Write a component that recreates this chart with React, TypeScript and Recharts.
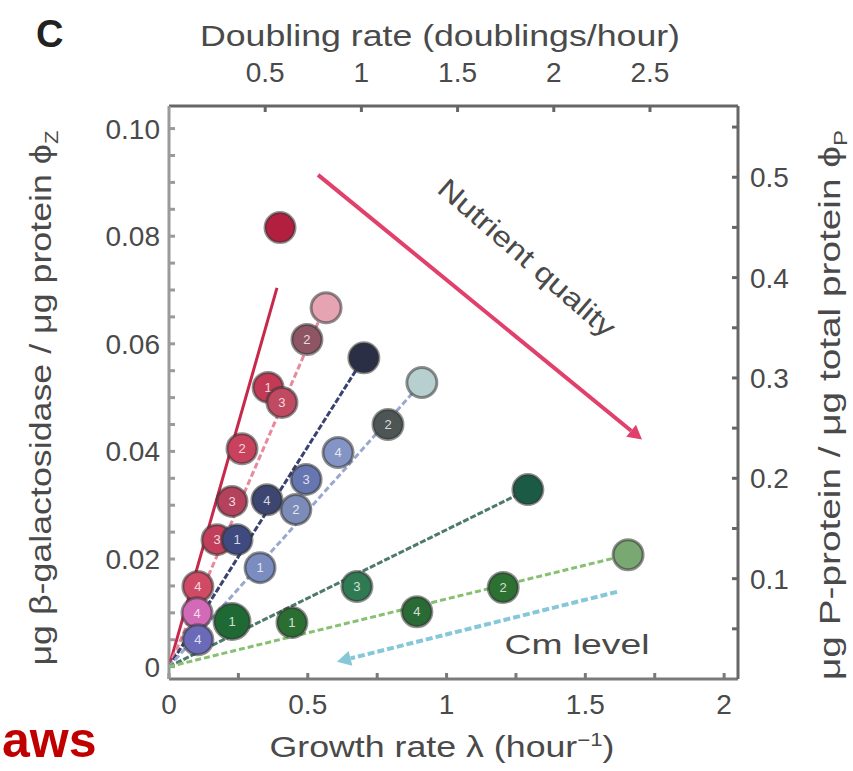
import React from 'react';
import { ComposedChart, Scatter, XAxis, YAxis, ReferenceLine, ReferenceDot } from 'recharts';

const FONT = '"Liberation Sans", Arial, Helvetica, sans-serif';
const TEXT = '#4a4a4a';
const AXIS = '#7a7a7a';

// ---- axis ticks ----
const growthTicks = [0, 0.25, 0.5, 0.75, 1, 1.25, 1.5, 1.75, 2];
const growthLabels = [0, 0.5, 1, 1.5, 2];
const doublingTicks = [0.5, 1, 1.5, 2, 2.5];
const lacZTicks = [0, 0.005, 0.01, 0.015, 0.02, 0.025, 0.03, 0.035, 0.04, 0.045, 0.05, 0.055, 0.06, 0.065, 0.07, 0.075, 0.08, 0.085, 0.09, 0.095, 0.1];
const lacZLabels = [0, 0.02, 0.04, 0.06, 0.08, 0.1];
const pTicks = [0.05, 0.1, 0.15, 0.2, 0.25, 0.3, 0.35, 0.4, 0.45, 0.5, 0.55];
const pLabels = [0.1, 0.2, 0.3, 0.4, 0.5];

// ---- series (growth rate λ, LacZ fraction, Cm label) ----
const crimsonLambda = [0.4, 0.357, 0.263, 0.173, 0.104];
const crimsonLacZ = [0.0816, 0.0519, 0.0405, 0.0236, 0.0149];
const crimsonCm = ['', '1', '2', '3', '4'];
const crimsonFitLambda = [0, 0.389];
const crimsonFitLacZ = [0, 0.0704];

const pinkLambda = [0.566, 0.497, 0.407, 0.227, 0.101];
const pinkLacZ = [0.0667, 0.0608, 0.0491, 0.0307, 0.01];
const pinkCm = ['', '2', '3', '3', '4'];
const pinkFitLambda = [0, 0.55];
const pinkFitLacZ = [0, 0.0655];

const navyLambda = [0.702, 0.494, 0.353, 0.245, 0.104];
const navyLacZ = [0.0574, 0.0348, 0.031, 0.0236, 0.005];
const navyCm = ['', '3', '4', '1', '4'];
const navyFitLambda = [0, 0.702];
const navyFitLacZ = [0, 0.0574];

const greyLambda = [0.911, 0.789, 0.609, 0.457, 0.328];
const greyLacZ = [0.0528, 0.045, 0.0398, 0.0292, 0.0184];
const greyCm = ['', '2', '4', '2', '1'];
const greyFitLambda = [0, 0.911];
const greyFitLacZ = [0, 0.0528];

const tealLambda = [1.293, 0.677, 0.227];
const tealLacZ = [0.0329, 0.0149, 0.0084];
const tealCm = ['', '3', '1'];
const tealFitLambda = [0, 1.293];
const tealFitLacZ = [0, 0.0329];

const greenLambda = [1.654, 1.204, 0.893, 0.443];
const greenLacZ = [0.0208, 0.0147, 0.0102, 0.0082];
const greenCm = ['', '2', '4', '1'];
const greenFitLambda = [0, 1.654];
const greenFitLacZ = [0, 0.0208];

// annotation arrows
const nutrientArrowLambda = [0.537, 1.704];
const nutrientArrowLacZ = [0.0914, 0.0422];
const cmArrowLambda = [1.614, 0.605];
const cmArrowLacZ = [0.0139, 0.0009];
const nutrientLabelAt = [1.29, 0.076];
const cmLabelAt = [1.47, 0.0041];

// ---- styles ----
const crimsonFills = ['#b3203f', '#c23a56', '#c8425e', '#c23f5c', '#d04a66'];
const pinkFills = ['#e6a4b2', '#8e5565', '#c04a62', '#b5425c', '#d26ab8'];
const navyFills = ['#2a2f45', '#6676b0', '#3d4670', '#3f4a80', '#6a6ab8'];
const greyFills = ['#b7cfcf', '#4d5555', '#8494c4', '#7d8bb8', '#7b8cc0'];
const tealFills = ['#1b5a45', '#2f7a52', '#1f6a34'];
const greenFills = ['#7aa872', '#2c7032', '#2a6a34', '#2a6e32'];
const tealRadii = [15, 15, 18];

const build = (xs: number[], ys: number[], cms?: string[]) =>
  xs.map((x, i) => ({ x, y: ys[i], cm: cms ? cms[i] : '', i }));

const makeDot = (fills: string[], radii?: number[]) => (p: any) => {
  if (p.cx == null || p.cy == null) return <g />;
  const i = p.payload.i;
  const r = radii ? radii[i] : 15;
  return (
    <g>
      <circle cx={p.cx} cy={p.cy} r={r} fill={fills[i]} stroke="#333" strokeOpacity={0.55} strokeWidth={3} />
      {p.payload.cm ? (
        <text x={p.cx} y={p.cy} dy="0.36em" textAnchor="middle" fontSize={13} fontFamily={FONT} fill="#fff" fillOpacity={0.8}>
          {p.payload.cm}
        </text>
      ) : null}
    </g>
  );
};

const noDot = () => <g />;

const arrowShape = (color: string, width: number, dash: string | undefined, head: number) => (p: any) => {
  const { x1, y1, x2, y2 } = p;
  if (x1 == null) return <g />;
  const a = Math.atan2(y2 - y1, x2 - x1);
  const c = Math.cos(a);
  const s = Math.sin(a);
  const bx = x2 - head * c;
  const by = y2 - head * s;
  const w = head * 0.55;
  return (
    <g>
      <line x1={x1} y1={y1} x2={bx} y2={by} stroke={color} strokeWidth={width} strokeDasharray={dash} />
      <polygon points={`${x2},${y2} ${bx - w * s},${by + w * c} ${bx + w * s},${by - w * c}`} fill={color} />
    </g>
  );
};

const fmtLacZ = (v: number) => {
  const m = lacZLabels.find((l) => Math.abs(l - v) < 1e-9);
  if (m === undefined) return '';
  return m === 0 ? '0' : m.toFixed(2);
};
const fmtGrowth = (v: number) => (growthLabels.some((l) => Math.abs(l - v) < 1e-9) ? String(v) : '');
const fmtP = (v: number) => (pLabels.some((l) => Math.abs(l - v) < 1e-9) ? v.toFixed(1) : '');

const tickStyle = { fontSize: 28, fill: TEXT, fontFamily: FONT };

export default function App() {
  const series = [
    { fit: build(crimsonFitLambda, crimsonFitLacZ), color: '#c8284a', dash: undefined, pts: build(crimsonLambda, crimsonLacZ, crimsonCm), fills: crimsonFills },
    { fit: build(pinkFitLambda, pinkFitLacZ), color: '#e8899c', dash: '6 3', pts: build(pinkLambda, pinkLacZ, pinkCm), fills: pinkFills },
    { fit: build(navyFitLambda, navyFitLacZ), color: '#3a4270', dash: '6 2', pts: build(navyLambda, navyLacZ, navyCm), fills: navyFills },
    { fit: build(greyFitLambda, greyFitLacZ), color: '#9aa8d0', dash: '6 3', pts: build(greyLambda, greyLacZ, greyCm), fills: greyFills },
    { fit: build(tealFitLambda, tealFitLacZ), color: '#4e7a6c', dash: '6 2', pts: build(tealLambda, tealLacZ, tealCm), fills: tealFills, radii: tealRadii },
    { fit: build(greenFitLambda, greenFitLacZ), color: '#86c070', dash: '6 3', pts: build(greenLambda, greenLacZ, greenCm), fills: greenFills },
  ];
  const topAnchor = doublingTicks.map((d) => ({ x: d, y: 0 }));

  return (
    <div style={{ position: 'absolute', left: 0, top: 0, width: 853, height: 771, background: '#fff', fontFamily: FONT }}>
      <ComposedChart width={853} height={771} margin={{ top: 0, right: 0, bottom: 0, left: 0 }}>
        <XAxis
          xAxisId="bottom"
          dataKey="x"
          type="number"
          domain={[0, 2.05]}
          allowDataOverflow
          ticks={growthTicks}
          tickFormatter={fmtGrowth}
          interval={0}
          height={92}
          tickSize={-6}
          tickMargin={21}
          tick={tickStyle}
          stroke={AXIS}
          strokeWidth={3}
          label={{
            content: () => (
              <text x={442} y={757} textAnchor="middle" fontSize={29} fill={TEXT} fontFamily={FONT} textLength={345} lengthAdjust="spacingAndGlyphs">
                Growth rate λ (hour<tspan dy={-11} fontSize={18}>−1</tspan><tspan dy={11}>)</tspan>
              </text>
            ),
          }}
        />
        <XAxis
          xAxisId="top"
          orientation="top"
          dataKey="x"
          type="number"
          domain={[0, 2.05 / Math.LN2]}
          allowDataOverflow
          ticks={doublingTicks}
          interval={0}
          height={106}
          tickSize={-6}
          tickMargin={30}
          tick={tickStyle}
          stroke="#666"
          strokeWidth={3}
          label={{
            content: () => (
              <text x={440} y={46} textAnchor="middle" fontSize={29} fill={TEXT} fontFamily={FONT} textLength={480} lengthAdjust="spacingAndGlyphs">
                Doubling rate (doublings/hour)
              </text>
            ),
          }}
        />
        <YAxis
          yAxisId="left"
          type="number"
          domain={[-0.0023, 0.1042]}
          allowDataOverflow
          ticks={lacZTicks}
          tickFormatter={fmtLacZ}
          interval={0}
          width={169}
          tickSize={-6}
          tickMargin={15}
          tick={tickStyle}
          stroke="#9a9a9a"
          strokeWidth={3}
          label={{
            content: () => (
              <text x={51} y={398} transform="rotate(-90 51 398)" textAnchor="middle" fontSize={29} fill={TEXT} fontFamily={FONT} textLength={535} lengthAdjust="spacingAndGlyphs">
                μg β-galactosidase / μg protein ϕ<tspan dy={7} fontSize={18}>Z</tspan>
              </text>
            ),
          }}
        />
        <YAxis
          yAxisId="right"
          orientation="right"
          type="number"
          domain={[0, 0.571]}
          allowDataOverflow
          ticks={pTicks}
          tickFormatter={fmtP}
          interval={0}
          width={115}
          tickSize={-6}
          tickMargin={18}
          tick={tickStyle}
          stroke="#666"
          strokeWidth={3}
          label={{
            content: () => (
              <text x={840} y={405} transform="rotate(-90 840 405)" textAnchor="middle" fontSize={29} fill={TEXT} fontFamily={FONT} textLength={550} lengthAdjust="spacingAndGlyphs">
                μg P-protein / μg total protein ϕ<tspan dy={7} fontSize={18}>P</tspan>
              </text>
            ),
          }}
        />

        <Scatter
          xAxisId="top"
          yAxisId="left"
          data={topAnchor}
          dataKey="y"
          shape={noDot}
          isAnimationActive={false}
        />

        {series.map((s, k) => (
          <Scatter
            key={`fit${k}`}
            xAxisId="bottom"
            yAxisId="left"
            data={s.fit}
            dataKey="y"
            line={{ stroke: s.color, strokeWidth: 3, strokeDasharray: s.dash }}
            shape={noDot}
            isAnimationActive={false}
          />
        ))}

        <ReferenceLine
          xAxisId="bottom"
          yAxisId="left"
          segment={[
            { x: cmArrowLambda[0], y: cmArrowLacZ[0] },
            { x: cmArrowLambda[1], y: cmArrowLacZ[1] },
          ]}
          shape={arrowShape('#86c8d8', 4, '7 3', 14)}
        />
        <ReferenceLine
          xAxisId="bottom"
          yAxisId="left"
          segment={[
            { x: nutrientArrowLambda[0], y: nutrientArrowLacZ[0] },
            { x: nutrientArrowLambda[1], y: nutrientArrowLacZ[1] },
          ]}
          shape={arrowShape('#e0406a', 4, undefined, 14)}
        />

        {series.map((s, k) => (
          <Scatter
            key={`pts${k}`}
            xAxisId="bottom"
            yAxisId="left"
            data={s.pts}
            dataKey="y"
            shape={makeDot(s.fills, (s as any).radii)}
            isAnimationActive={false}
          />
        ))}

        <ReferenceDot
          xAxisId="bottom"
          yAxisId="left"
          x={nutrientLabelAt[0]}
          y={nutrientLabelAt[1]}
          r={0}
          shape={(p: any) => (
            <text x={p.cx} y={p.cy} transform={`rotate(41 ${p.cx} ${p.cy})`} textAnchor="middle" dy="0.35em" fontSize={28} fill={TEXT} fontFamily={FONT} textLength={225} lengthAdjust="spacingAndGlyphs">
              Nutrient quality
            </text>
          )}
        />
        <ReferenceDot
          xAxisId="bottom"
          yAxisId="left"
          x={cmLabelAt[0]}
          y={cmLabelAt[1]}
          r={0}
          shape={(p: any) => (
            <text x={p.cx} y={p.cy} textAnchor="middle" dy="0.35em" fontSize={28} fill={TEXT} fontFamily={FONT} textLength={145} lengthAdjust="spacingAndGlyphs">
              Cm level
            </text>
          )}
        />
      </ComposedChart>
      <svg width={853} height={771} style={{ position: 'absolute', left: 0, top: 0, pointerEvents: 'none' }}>
        <text x={36} y={47} fontSize={38} fontWeight="bold" fill="#222" fontFamily={FONT}>C</text>
        <text x={2} y={757} fontSize={50} fontWeight="bold" fill="#c00000" fontFamily={FONT}>aws</text>
      </svg>
    </div>
  );
}
